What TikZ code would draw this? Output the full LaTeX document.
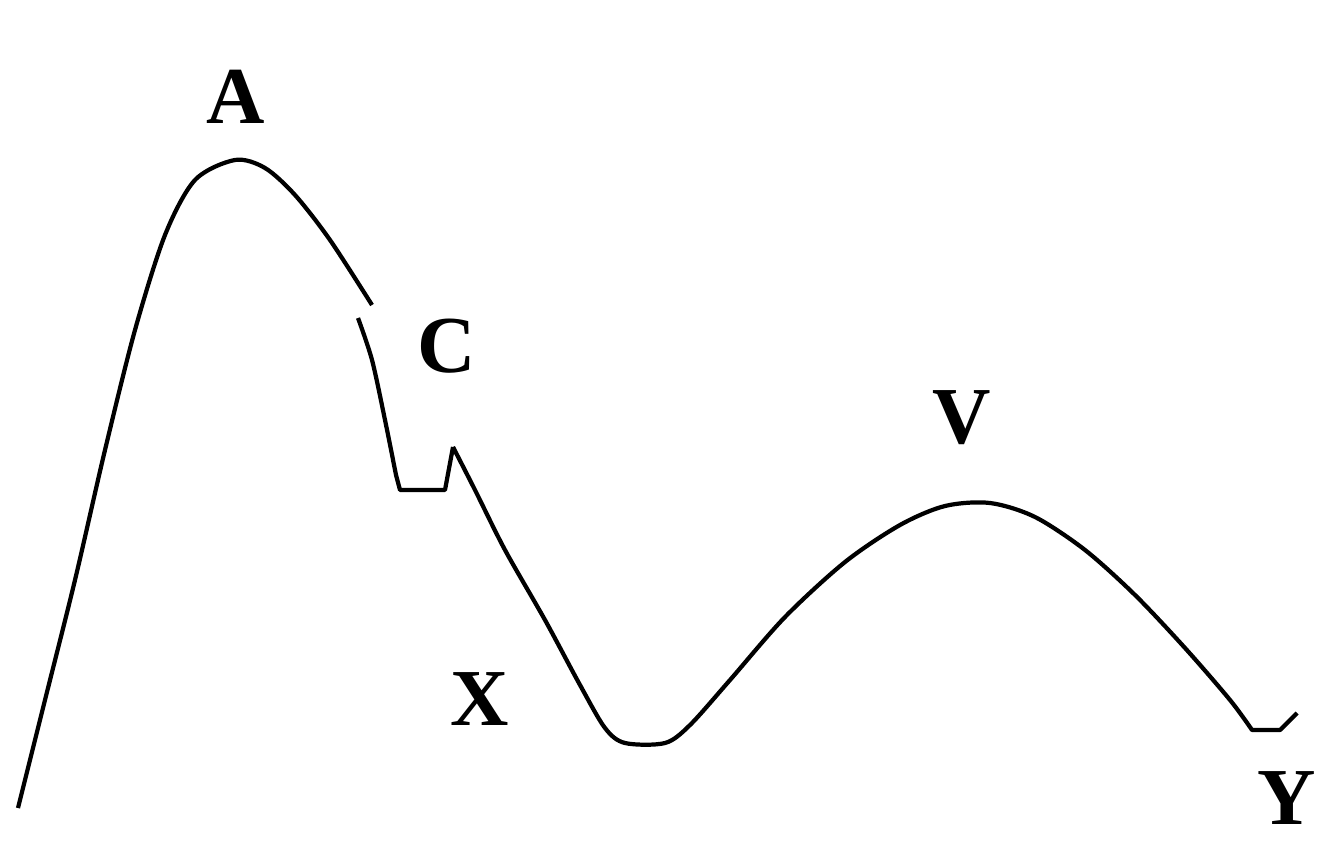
\documentclass[tikz,border=0pt]{standalone}
\usepackage{fontspec}
\setmainfont{Liberation Serif}
\usetikzlibrary{calc}
\tikzset{
  profile/.style={draw=black, line width=1.2pt, line join=round},
  peaklabel/.style={font=\bfseries\fontsize{23}{25}\selectfont, inner sep=0pt},
}

\begin{document}
\begin{tikzpicture}[x=0.1mm, y=-0.1mm]
  \useasboundingbox (0,0) rectangle (1322,843);
  % rising flank up to the summit A
  \draw[profile] plot[smooth, tension=0.5] coordinates {(18,808) (45,700) (75,580) (105,450) (135,330) (165,235) (195,180) (235,160) (265,168) (295,195) (330,240) (372,305)};
  % steep drop into the notch below C
  \draw[profile] plot[smooth, tension=0.5] coordinates {(358,318) (372,360) (385,420) (396,475)}
    -- (400,490) -- (445,490) -- (453,447);
  % valley near X, the hump V and the end Y
  \draw[profile] plot[smooth, tension=0.5] coordinates {(453,447) (475,490) (505,550) (545,620) (580,685) (605,728) (625,743) (665,743) (690,725) (730,680) (785,617) (845,562) (900,525) (945,506) (990,503) (1035,517) (1085,550) (1135,595) (1185,648) (1230,700) (1252,730)}
    -- (1280,730) -- (1297,713);
  % labels
  \node[peaklabel] (lblA) at (236,97) {A};
  \node[peaklabel] (lblC) at (447,346) {C};
  \node[peaklabel] (lblV) at (962,418) {V};
  \node[peaklabel] (lblX) at (480,699) {X};
  \node[peaklabel] (lblY) at (1287,798) {Y};
\end{tikzpicture}
\end{document}
